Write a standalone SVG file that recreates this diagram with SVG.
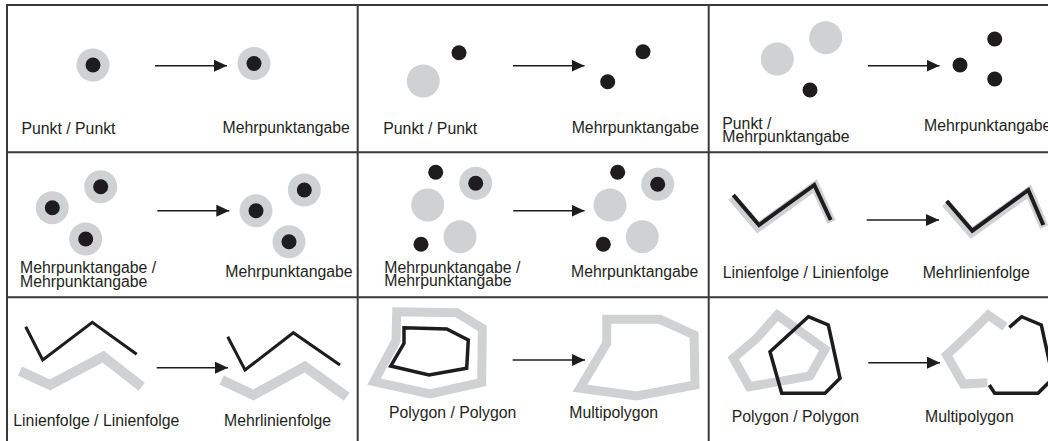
<svg xmlns="http://www.w3.org/2000/svg" width="1048" height="441" viewBox="0 0 1048 441">
<style>
.grid{stroke:#3a3a3a;stroke-width:2;fill:none}
.g{fill:#d0d1d3}
.b{fill:#1e1c1d}
.gl{fill:none;stroke:#d0d1d3;stroke-linejoin:miter}
.bl{fill:none;stroke:#1e1c1d;stroke-linejoin:miter}
.conn{stroke:#1e1c1d;stroke-width:1.5;fill:none}
text{font-family:"Liberation Sans",Arial,sans-serif;font-size:15.8px;fill:#231f20}
</style>
<defs>
<marker id="ah" markerWidth="14" markerHeight="12" refX="13" refY="6" orient="auto" markerUnits="userSpaceOnUse">
<path d="M0,0 L13,6 L0,12 Z" fill="#1e1c1d"/>
</marker>
</defs>
<rect width="1048" height="441" fill="#ffffff"/>
<g id="grid">
<path class="grid" d="M7,5 H1048 M7,152.3 H1048 M7,297.3 H1048 M7,4 V441 M357.7,4 V441 M708.7,4 V441"/>
</g>
<g id="connectors">
<line class="conn" x1="155" y1="65.7" x2="227" y2="65.7" marker-end="url(#ah)"/>
<line class="conn" x1="513" y1="65.7" x2="584.5" y2="65.7" marker-end="url(#ah)"/>
<line class="conn" x1="868" y1="65.7" x2="939.5" y2="65.7" marker-end="url(#ah)"/>
<line class="conn" x1="157.3" y1="210.7" x2="229.3" y2="210.7" marker-end="url(#ah)"/>
<line class="conn" x1="513.3" y1="210.7" x2="584.5" y2="210.7" marker-end="url(#ah)"/>
<line class="conn" x1="866.7" y1="220" x2="939" y2="220" marker-end="url(#ah)"/>
<line class="conn" x1="156.7" y1="367.7" x2="228" y2="367.7" marker-end="url(#ah)"/>
<line class="conn" x1="512.7" y1="360" x2="585" y2="360" marker-end="url(#ah)"/>
<line class="conn" x1="868.3" y1="362.7" x2="940" y2="362.7" marker-end="url(#ah)"/>
</g>
<g id="cell1">
<circle class="g" cx="93" cy="65" r="16.5"/><circle class="b" cx="93" cy="65" r="7.5"/>
<circle class="g" cx="254" cy="63.5" r="16.5"/><circle class="b" cx="254" cy="63.5" r="7.5"/>
<text x="21.5" y="134">Punkt / Punkt</text>
<text x="222.5" y="133">Mehrpunktangabe</text>
</g>
<g id="cell2">
<circle class="g" cx="423.3" cy="81" r="16.5"/>
<circle class="b" cx="459" cy="52.7" r="7.5"/>
<circle class="b" cx="643" cy="51.7" r="7.5"/>
<circle class="b" cx="607.7" cy="81.7" r="7.5"/>
<text x="383.3" y="134">Punkt / Punkt</text>
<text x="571.7" y="133">Mehrpunktangabe</text>
</g>
<g id="cell3">
<circle class="g" cx="777.3" cy="59" r="16.5"/>
<circle class="g" cx="825.7" cy="37.7" r="16.5"/>
<circle class="b" cx="810" cy="90" r="7.5"/>
<circle class="b" cx="960" cy="65" r="7.5"/>
<circle class="b" cx="994.7" cy="39" r="7.5"/>
<circle class="b" cx="994.7" cy="79" r="7.5"/>
<text x="722.3" y="129.3">Punkt /</text>
<text x="722.3" y="141.7">Mehrpunktangabe</text>
<text x="924" y="130.5">Mehrpunktangabe</text>
</g>
<g id="cell4">
<circle class="g" cx="52.3" cy="207.7" r="16.5"/><circle class="b" cx="52.3" cy="207.7" r="7.5"/>
<circle class="g" cx="100.7" cy="186.7" r="16.5"/><circle class="b" cx="100.7" cy="186.7" r="7.5"/>
<circle class="g" cx="85.7" cy="239" r="16.5"/><circle class="b" cx="85.7" cy="239" r="7.5"/>
<circle class="g" cx="256" cy="210.7" r="16.5"/><circle class="b" cx="256" cy="210.7" r="7.5"/>
<circle class="g" cx="304.3" cy="190" r="16.5"/><circle class="b" cx="304.3" cy="190" r="7.5"/>
<circle class="g" cx="289" cy="241.7" r="16.5"/><circle class="b" cx="289" cy="241.7" r="7.5"/>
<text x="20" y="273.3">Mehrpunktangabe /</text>
<text x="20" y="286.5">Mehrpunktangabe</text>
<text x="225.3" y="277.3">Mehrpunktangabe</text>
</g>
<g id="cell5">
<circle class="b" cx="435.7" cy="172.3" r="7.5"/>
<circle class="g" cx="475.7" cy="183.3" r="16.5"/><circle class="b" cx="475.7" cy="183.3" r="7.5"/>
<circle class="g" cx="427.7" cy="205" r="16.5"/>
<circle class="g" cx="460" cy="236.7" r="16.5"/>
<circle class="b" cx="421" cy="244.3" r="7.5"/>
<circle class="b" cx="617.7" cy="172.3" r="7.5"/>
<circle class="g" cx="657.7" cy="184.3" r="16.5"/><circle class="b" cx="657.7" cy="184.3" r="7.5"/>
<circle class="g" cx="610" cy="205" r="16.5"/>
<circle class="g" cx="642.3" cy="236.7" r="16.5"/>
<circle class="b" cx="603.3" cy="244.3" r="7.5"/>
<text x="384.3" y="272.7">Mehrpunktangabe /</text>
<text x="384.3" y="286">Mehrpunktangabe</text>
<text x="571" y="276.7">Mehrpunktangabe</text>
</g>
<g id="cell6">
<polyline class="gl" stroke-width="9" points="732,197 758,227.5 815,186 831.5,222"/>
<polyline class="bl" stroke-width="4" points="733.3,195 759,225 814.3,185 830.7,220"/>
<polyline class="gl" stroke-width="9" points="945.5,203 971.5,233 1029,191.5 1044,227"/>
<polyline class="bl" stroke-width="4" points="946.7,201 972.3,230.7 1028.3,190 1043.3,225"/>
<text x="722.7" y="277.7">Linienfolge / Linienfolge</text>
<text x="922.7" y="277.7">Mehrlinienfolge</text>
</g>
<g id="cell7">
<polyline class="bl" stroke-width="3" points="25.7,326.7 42.7,360 92.3,322.3 136.7,354.3"/>
<polyline class="gl" stroke-width="10" points="20,371 50,385 103.3,356.7 141.7,386.7"/>
<polyline class="bl" stroke-width="3" points="227.7,336.7 245,370 293.3,332.7 340,365"/>
<polyline class="gl" stroke-width="10" points="221.7,380 253.3,395 305,366.7 346.7,396.7"/>
<text x="13.3" y="426">Linienfolge / Linienfolge</text>
<text x="224" y="426">Mehrlinienfolge</text>
</g>
<g id="cell8">
<polygon class="gl" stroke-width="9" points="396.7,311.7 456.7,312.7 482.3,328.3 481.7,382.3 430,394 374,381.7 396,340.7"/>
<polygon class="bl" stroke-width="3.5" points="404,327.7 446.7,329 468.3,340 466.7,368.3 429,375 390.7,366 404,343.3"/>
<polygon class="gl" stroke-width="9" points="606.7,319.3 660,319.3 694,335 695,385 636.7,396 580,388.3 606.7,343.3"/>
<text x="389" y="418.3">Polygon / Polygon</text>
<text x="569.3" y="418.3">Multipolygon</text>
</g>
<g id="cell9">
<polygon class="gl" stroke-width="9" points="777.3,315 825,349.3 810,376 749.3,386.7 733.3,358.3 756.7,338.3"/>
<polygon class="bl" stroke-width="3.5" points="808.3,316.7 828.3,325 840,378.3 825,393.3 781.7,393.3 770,351.7"/>
<polyline class="gl" stroke-width="9" points="1005,326.7 988.3,315 973.3,330 946.7,355 963.3,384 987.3,382.7"/>
<polyline class="bl" stroke-width="3.5" points="1009.3,327.3 1021.7,316.7 1041.3,325 1053,378.3 1038,393.3 994.7,393.3 989.3,385"/>
<text x="731.7" y="421.7">Polygon / Polygon</text>
<text x="925" y="421.7">Multipolygon</text>
</g>
</svg>
